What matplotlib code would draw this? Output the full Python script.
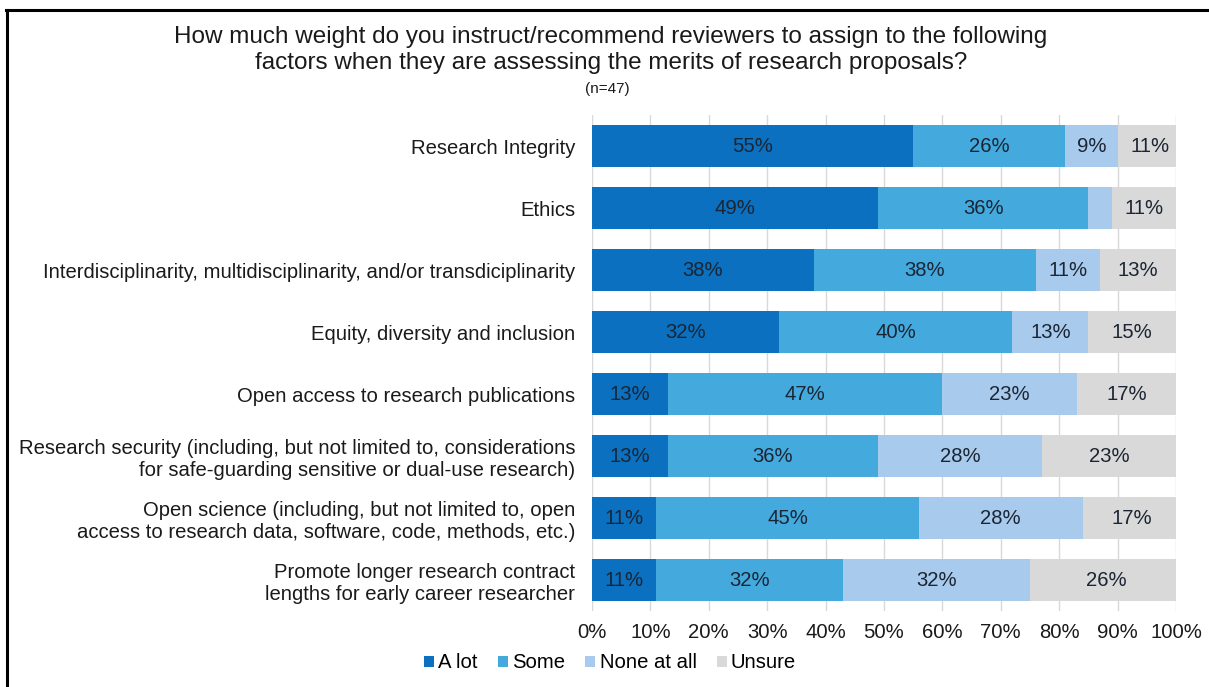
import matplotlib
matplotlib.use("Agg")
import matplotlib.pyplot as plt
from matplotlib.lines import Line2D
from matplotlib.patches import Patch

plt.rcParams['font.family'] = ['Liberation Sans', 'DejaVu Sans']

categories = [
    "Research Integrity",
    "Ethics",
    "Interdisciplinarity, multidisciplinarity, and/or transdiciplinarity",
    "Equity, diversity and inclusion",
    "Open access to research publications",
    "Research security (including, but not limited to, considerations\nfor safe-guarding sensitive or dual-use research)",
    "Open science (including, but not limited to, open\naccess to research data, software, code, methods, etc.)",
    "Promote longer research contract\nlengths for early career researcher",
]
a_lot = [55, 49, 38, 32, 13, 13, 11, 11]
some = [26, 36, 38, 40, 47, 36, 45, 32]
none_at_all = [9, 4, 11, 13, 23, 28, 28, 32]
unsure = [11, 11, 13, 15, 17, 23, 17, 26]

series_names = ["A lot", "Some", "None at all", "Unsure"]
series = [a_lot, some, none_at_all, unsure]
colors = ["#0A70BF", "#44AADE", "#A8CAEC", "#D9D9D9"]
tick_values = list(range(0, 101, 10))

FS = 14.6
W, H = 1209, 687
fig = plt.figure(figsize=(W / 100, H / 100), dpi=100)
ax = fig.add_axes([592 / W, 1 - 611 / H, (1176 - 592) / W, (611 - 115) / H])

ypos = list(range(len(categories)))
left = [0] * len(categories)
for name, vals, col in zip(series_names, series, colors):
    ax.barh(ypos, vals, left=left, height=0.68, color=col, label=name, zorder=2)
    for y, l, v in zip(ypos, left, vals):
        if v >= 5:
            ax.text(l + v / 2, y, f"{v}%", ha='center', va='center',
                    fontsize=FS, color='#1B2533', zorder=3)
    left = [l + v for l, v in zip(left, vals)]

ax.set_xlim(0, 100)
ax.set_ylim(len(categories) - 0.5, -0.5)
ax.set_yticks(ypos)
ax.set_yticklabels(categories, fontsize=FS, color='#1a1a1a')
ax.set_xticks(tick_values)
ax.set_xticklabels([f"{t}%" for t in tick_values], fontsize=FS, color='#1a1a1a')
ax.tick_params(axis='both', length=0)
ax.tick_params(axis='y', pad=12)
ax.tick_params(axis='x', pad=9)
ax.xaxis.grid(True, color='#D9D9D9', linewidth=1, zorder=0)
ax.set_axisbelow(True)
for s in ax.spines.values():
    s.set_visible(False)

fig.text(611 / W, 1 - 50 / H,
         "How much weight do you instruct/recommend reviewers to assign to the following\n"
         "factors when they are assessing the merits of research proposals?",
         ha='center', va='center', fontsize=17.5, color='#1a1a1a', linespacing=1.22)
fig.text(607 / W, 1 - 89 / H, "(n=47)", ha='center', va='center', fontsize=11, color='#1a1a1a')

handles = [Patch(facecolor=c, edgecolor='none') for c in colors]
fig.legend(handles, series_names, loc='center', bbox_to_anchor=(610 / W, 1 - 663 / H),
           ncol=4, frameon=False, fontsize=FS, handlelength=0.5, handleheight=0.5,
           handletextpad=0.2, columnspacing=1.0)

# outer frame edges
fig.add_artist(Line2D([7 / W, 7 / W], [0, 1 - 10 / H], color='black', linewidth=2.2,
                      transform=fig.transFigure))
fig.add_artist(Line2D([6 / W, 1], [1 - 10 / H, 1 - 10 / H], color='black', linewidth=2.2,
                      transform=fig.transFigure))

fig.savefig("out.png", dpi=100)
